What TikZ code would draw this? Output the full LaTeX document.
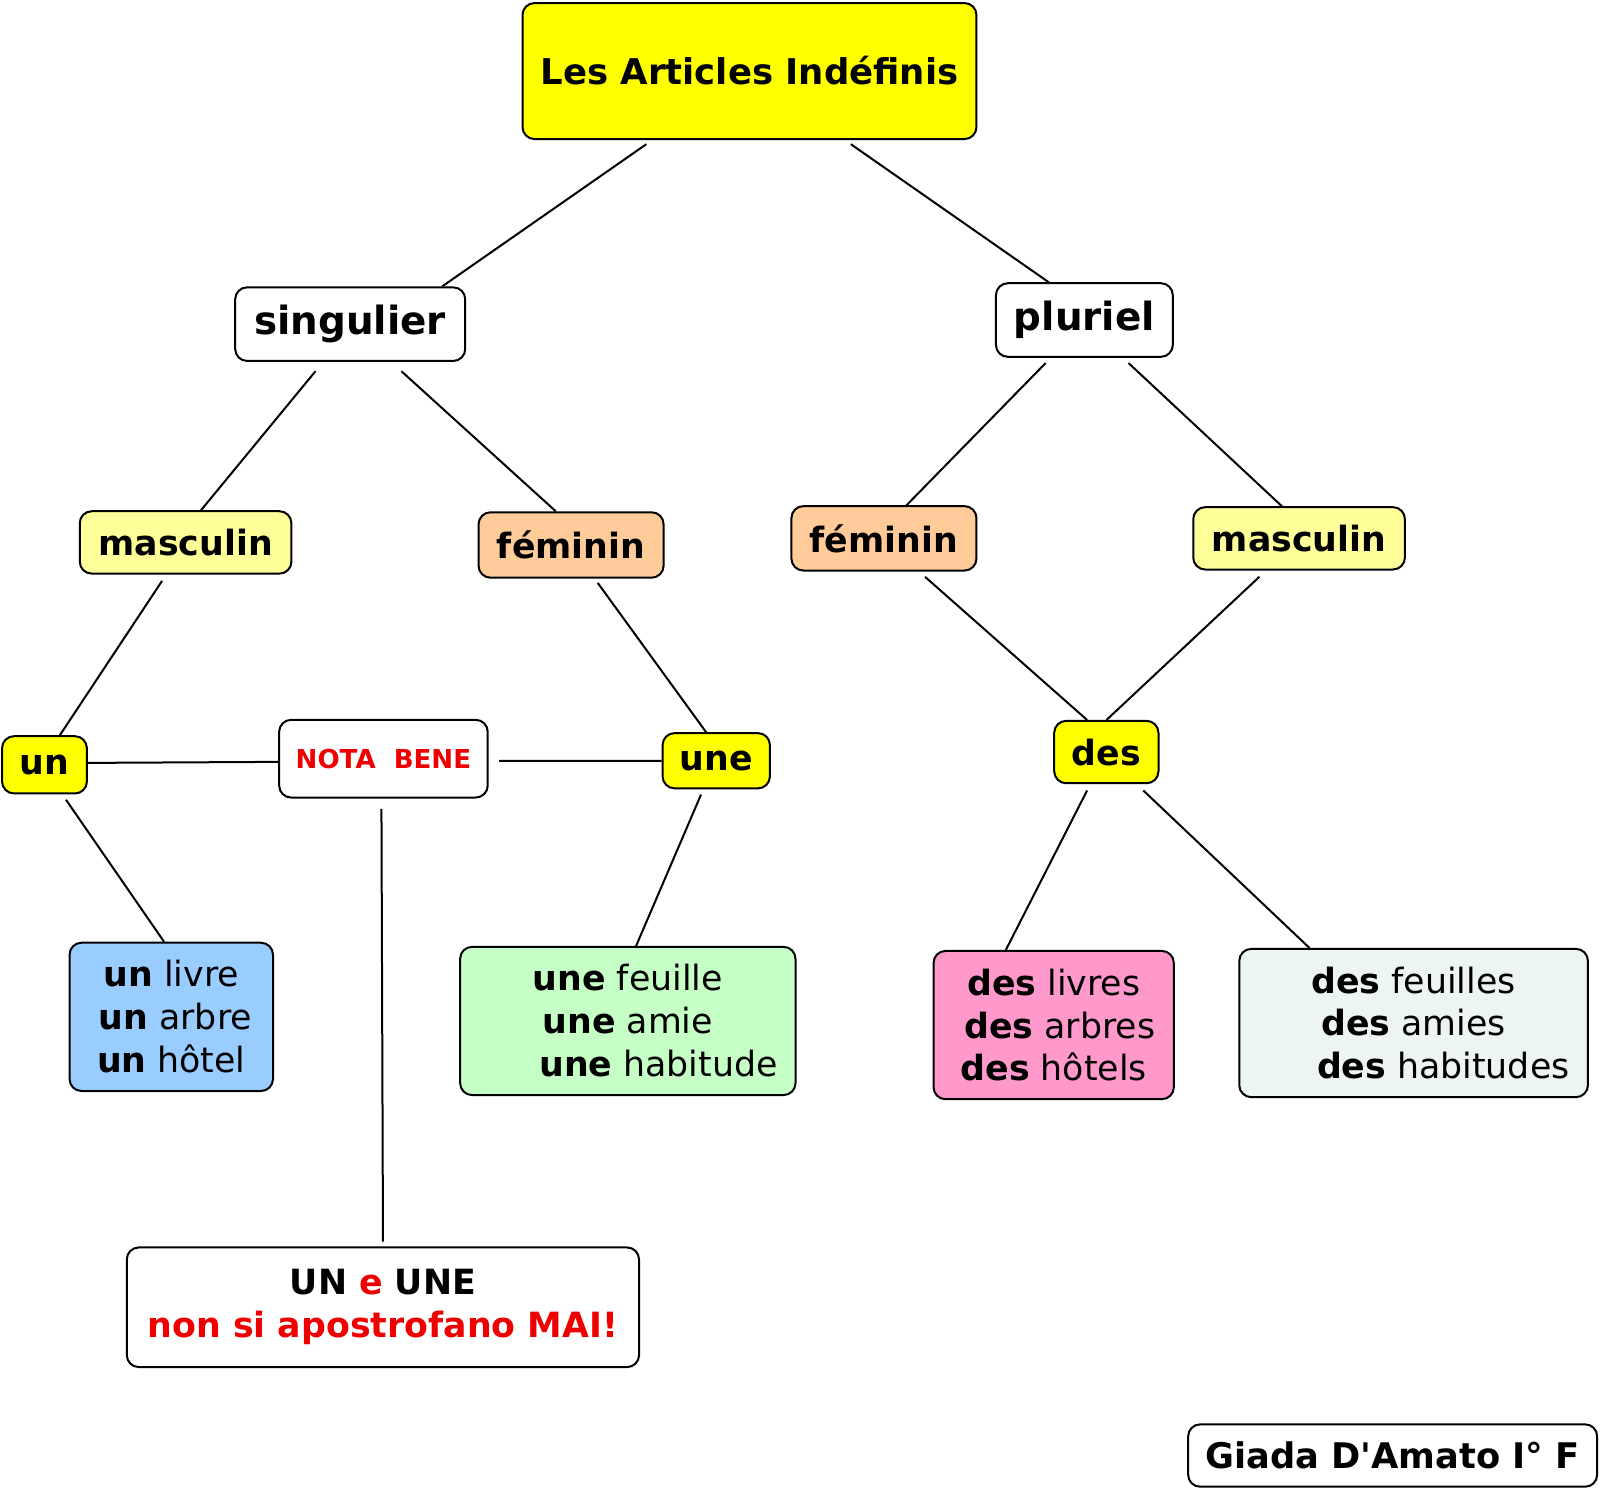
\documentclass[tikz,border=0pt]{standalone}
\usepackage{fontspec}
\setmainfont{DejaVu Sans}
\newfontfamily\plainfont{DejaVu Sans}
\definecolor{titleyellow}{HTML}{FFFF00}
\definecolor{paleyellow}{HTML}{FFFF99}
\definecolor{peach}{HTML}{FFCC99}
\definecolor{skyblue}{HTML}{99CCFF}
\definecolor{palegreen}{HTML}{C6FFC6}
\definecolor{pinkbox}{HTML}{FF99CC}
\definecolor{icebox}{HTML}{ECF4F4}
\definecolor{notared}{HTML}{EE0000}
\tikzset{
	mapbox/.style={draw, line width=2pt, rounded corners=12pt, inner sep=0pt, align=center,
		font=\bfseries\fontsize{34}{42}\selectfont},
	examplebox/.style={mapbox, font=\fontsize{34}{42}\selectfont},
	link/.style={line width=2pt},
}

\begin{document}
\begin{tikzpicture}[x=1pt, y=-1pt, scale=1.0225, every node/.append style={transform shape}]
			%%%%% START %%%%%
			
			\fill[white] (0, 0) rectangle (1564.8, 1455.3);
			
			\node[mapbox, fill=titleyellow, minimum width=444pt, minimum height=133pt, font=\bfseries\fontsize{34.7}{42}\selectfont] (title) at (733, 69.5) {Les Articles Indéfinis};
			
			\node[mapbox, fill=white, minimum width=225pt, minimum height=72pt, font=\bfseries\fontsize{38}{46}\selectfont] (singulier) at (342.5, 317) {singulier};
			\node[mapbox, fill=white, minimum width=173pt, minimum height=72pt, font=\bfseries\fontsize{38}{46}\selectfont] (pluriel) at (1060.5, 313) {pluriel};
			
			\node[mapbox, fill=paleyellow, minimum width=207pt, minimum height=61pt] (mascL) at (181.5, 530.5) {masculin};
			\node[mapbox, fill=peach, minimum width=181pt, minimum height=64pt] (femL) at (558.5, 533) {féminin};
			\node[mapbox, fill=peach, minimum width=181pt, minimum height=63pt] (femR) at (864.5, 526.5) {féminin};
			\node[mapbox, fill=paleyellow, minimum width=207pt, minimum height=61pt] (mascR) at (1270.5, 526.5) {masculin};
			
			\node[mapbox, fill=titleyellow, minimum width=83pt, minimum height=56pt] (un) at (43.5, 748) {un};
			\node[mapbox, fill=white, minimum width=204pt, minimum height=76pt, text=notared, font=\bfseries\fontsize{25.5}{32}\selectfont] (nota) at (375, 742) {NOTA~~BENE};
			\node[mapbox, fill=titleyellow, minimum width=105pt, minimum height=54pt] (une) at (700.5, 744) {une};
			\node[mapbox, fill=titleyellow, minimum width=102pt, minimum height=61pt] (des) at (1082, 735.5) {des};
			
			\node[examplebox, fill=skyblue, minimum width=199pt, minimum height=145pt] (unbox) at (167.5, 994.5)
				{\textbf{un} livre\\ \hspace*{8pt}\textbf{un} arbre\\ \textbf{un} hôtel};
			\node[examplebox, fill=palegreen, minimum width=328pt, minimum height=145pt] (unebox) at (614, 998.5)
				{\textbf{une} feuille\\ \textbf{une} amie\\ \hspace*{60pt}\textbf{une} habitude};
			\node[examplebox, fill=pinkbox, minimum width=235pt, minimum height=145pt] (deslbox) at (1030.5, 1002.5)
				{\textbf{des} livres\\ \hspace*{12pt}\textbf{des} arbres\\ \textbf{des} hôtels};
			\node[examplebox, fill=icebox, minimum width=341pt, minimum height=145pt] (desfbox) at (1382.5, 1000.5)
				{\textbf{des} feuilles\\ \textbf{des} amies\\ \hspace*{58pt}\textbf{des} habitudes};
			
			\node[mapbox, fill=white, minimum width=501pt, minimum height=117pt] (mai) at (374.5, 1278.5)
				{UN \textcolor{notared}{e} UNE\\ \textcolor{notared}{non si apostrofano MAI!}};
			
			\node[mapbox, fill=white, minimum width=400pt, minimum height=61pt, font=\plainfont\bfseries\fontsize{34.5}{42}\selectfont] (giada) at (1362, 1423.5) {Giada D'Amato I° F};
			
			\draw[link] ([xshift=-101pt,yshift=-4pt]title.south) -- ([xshift=90pt]singulier.north);
			\draw[link] ([xshift=99pt,yshift=-4pt]title.south) -- ([xshift=-35pt]pluriel.north);
			
			\draw[link] ([xshift=-34pt,yshift=-9pt]singulier.south) -- ([xshift=15pt]mascL.north);
			\draw[link] ([xshift=50pt,yshift=-9pt]singulier.south) -- ([xshift=-15pt]femL.north);
			\draw[link] ([xshift=-38pt,yshift=-5pt]pluriel.south) -- ([xshift=22pt]femR.north);
			\draw[link] ([xshift=43pt,yshift=-5pt]pluriel.south) -- ([xshift=-17pt]mascR.north);
			
			\draw[link] ([xshift=-23pt,yshift=-6pt]mascL.south) -- ([xshift=15pt]un.north);
			\draw[link] ([xshift=26pt,yshift=-4pt]femL.south) -- ([xshift=-10pt]une.north);
			\draw[link] ([xshift=40pt,yshift=-5pt]femR.south) -- ([xshift=-19pt]des.north);
			\draw[link] ([xshift=-39pt,yshift=-6pt]mascR.south) -- (des.north);
			
			\draw[link] ([yshift=2pt]un.east) -- ([yshift=-3pt]nota.west);
			\draw[link] ([xshift=10pt,yshift=-2pt]nota.east) -- (une.west);
			\draw[link] ([xshift=-2pt,yshift=-10pt]nota.south) -- ([yshift=5pt]mai.north);
			
			\draw[link] ([xshift=21pt,yshift=-5pt]un.south) -- ([xshift=-7pt]unbox.north);
			\draw[link] ([xshift=-15pt,yshift=-5pt]une.south) -- ([xshift=8pt]unebox.north);
			\draw[link] ([xshift=-19pt,yshift=-6pt]des.south) -- ([xshift=-47pt]deslbox.north);
			\draw[link] ([xshift=36pt,yshift=-6pt]des.south) -- ([xshift=-102pt]desfbox.north);
			
			\pgfresetboundingbox
			\useasboundingbox (0, 0) rectangle (1564.8, 1455.3);
			
			%%%%% END %%%%%
\end{tikzpicture}
\end{document}
